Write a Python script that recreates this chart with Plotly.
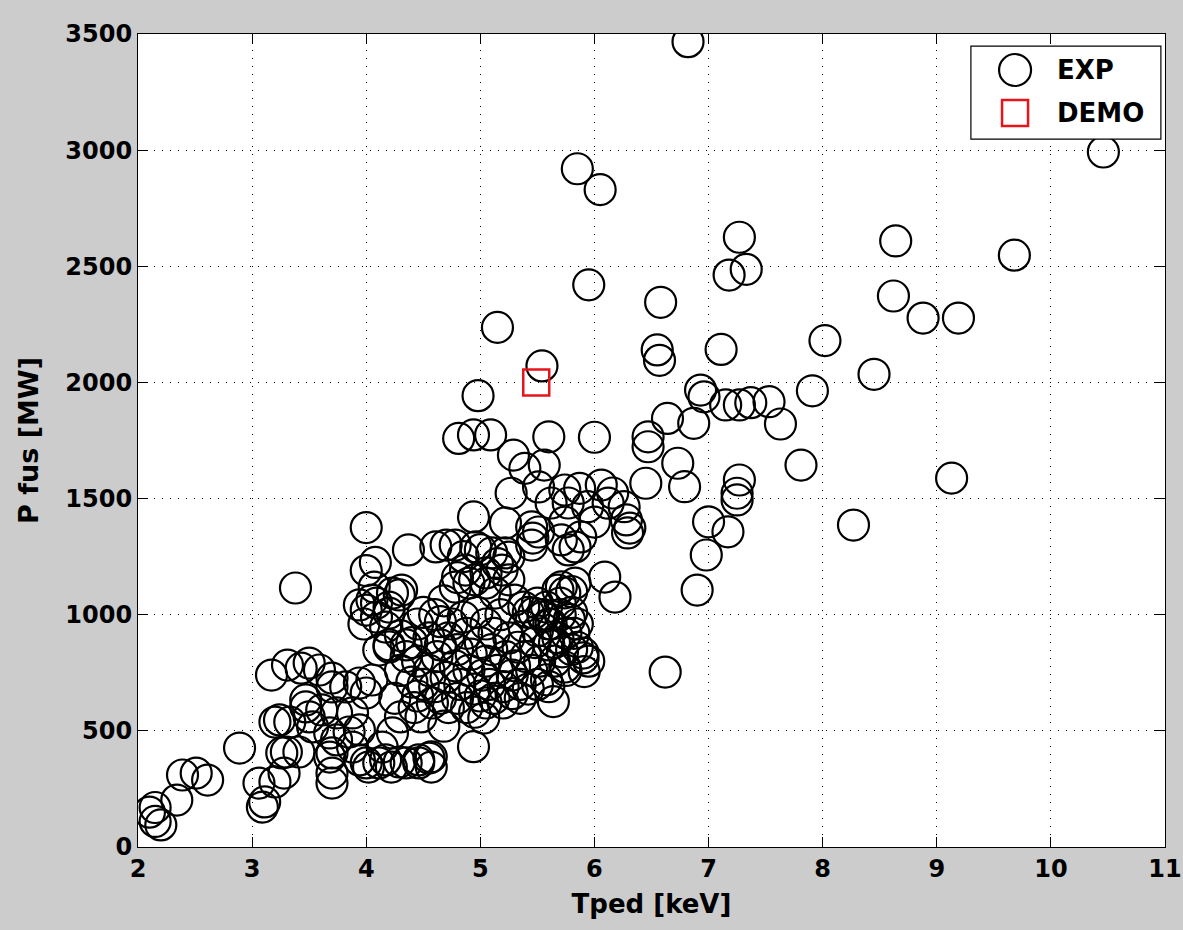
import plotly.graph_objects as go

# Experimental database: pedestal temperature [keV] vs fusion power [MW]
exp_pts = [
    (6.82, 3467), (10.46, 2992), (5.85, 2920), (6.05, 2830), (7.27, 2625), (8.64, 2609),
    (9.68, 2548), (7.18, 2462), (7.33, 2487), (5.95, 2420), (8.62, 2372), (6.58, 2345),
    (8.88, 2277), (9.19, 2277), (5.15, 2237), (8.02, 2180), (7.11, 2142), (6.55, 2140),
    (6.57, 2095), (5.54, 2071), (8.45, 2035), (4.98, 1943), (6.93, 1967), (6.96, 1938),
    (7.91, 1964), (7.15, 1903), (7.27, 1903), (7.37, 1913), (7.53, 1917), (7.63, 1821),
    (6.87, 1824), (6.64, 1845),
    (4.81, 1759), (4.94, 1774), (5.09, 1774), (5.60, 1766), (6.00, 1764), (6.47, 1766),
    (6.47, 1723), (5.29, 1687), (5.39, 1630), (5.56, 1644), (6.73, 1652), (6.79, 1551),
    (6.45, 1566), (7.81, 1644), (9.13, 1588), (7.27, 1580), (7.25, 1523), (7.25, 1494),
    (8.27, 1386), (7.00, 1400), (7.17, 1357), (6.98, 1257), (6.90, 1106), (6.62, 753),
    (5.27, 1523), (5.51, 1550), (5.74, 1537), (5.87, 1544), (6.06, 1558), (6.16, 1524),
    (6.26, 1465), (6.28, 1408), (6.31, 1373), (6.29, 1352), (5.62, 1481), (5.77, 1481),
    (5.94, 1465), (6.12, 1480),
    (4.94, 1421), (5.22, 1395), (5.45, 1378), (5.74, 1399), (6.00, 1399),
    (4.37, 1279), (4.61, 1292), (4.78, 1300), (4.96, 1292), (5.22, 1266), (5.45, 1300),
    (5.77, 1279), (5.83, 1136), (5.68, 1106), (6.09, 1162), (6.18, 1076), (5.46, 1330),
    (5.51, 1356), (5.71, 1322), (5.83, 1292), (5.88, 1335), (5.71, 1120), (5.74, 1094),
    (4.00, 1375), (3.38, 1115), (4.00, 1190), (4.08, 1225),
    (4.07, 1119), (4.23, 1093), (4.31, 1106), (4.09, 1050), (3.94, 1042), (4.05, 1063),
    (4.29, 1085), (4.20, 1033), (4.00, 1020), (4.09, 990), (4.20, 1007), (4.17, 947),
    (3.98, 960),
    (4.87, 1192), (4.90, 1136), (4.78, 1119), (5.05, 1136), (5.13, 1093), (5.19, 1192),
    (5.10, 1266), (5.25, 1248), (5.30, 1063), (5.38, 1033), (5.47, 1007), (5.58, 1033),
    (4.11, 848), (4.20, 861),
    (3.70, 689), (3.82, 689), (3.94, 706), (4.05, 719), (4.00, 663),
    (3.47, 603), (3.61, 590), (3.74, 577), (3.88, 577),
    (3.68, 491), (3.85, 495), (3.94, 504), (3.70, 405), (3.74, 461),
    (3.70, 318), (4.00, 362), (4.17, 375), (4.29, 366), (4.46, 375), (4.57, 388),
    (3.17, 740), (3.31, 783), (3.43, 770), (3.50, 792), (3.59, 762), (3.70, 727),
    (3.47, 633), (3.50, 560), (3.53, 517),
    (3.24, 547), (3.20, 538), (3.33, 538),
    (2.89, 426),
    (3.30, 409), (3.41, 409), (3.26, 405),
    (3.06, 275), (3.20, 280), (3.28, 318), (3.11, 194), (3.09, 172),
    (3.68, 387), (3.70, 275),
    (3.88, 430), (3.94, 375), (4.02, 344), (4.11, 362), (4.22, 344), (4.35, 362),
    (4.46, 362), (4.57, 344),
    (2.10, 150), (2.15, 170), (2.15, 110), (2.20, 95), (2.34, 202), (2.39, 310),
    (2.51, 318), (2.61, 288),
    (5.64, 626), (5.91, 755), (5.90, 814), (5.90, 835), (5.03, 555), (4.94, 432),
    (5.74, 775), (4.55, 383), (4.23, 491), (4.14, 430),
    # dense core of the distribution
    (4.45, 650), (4.50, 700), (4.55, 760), (4.60, 690), (4.62, 820), (4.65, 640),
    (4.70, 730), (4.72, 900), (4.75, 960), (4.78, 780), (4.80, 850), (4.82, 700),
    (4.85, 990), (4.88, 920), (4.90, 760), (4.92, 830), (4.95, 680), (4.97, 1010),
    (5.00, 880), (5.02, 740), (5.05, 800), (5.05, 960), (5.08, 700), (5.10, 850),
    (5.12, 920), (5.15, 760), (5.18, 1000), (5.20, 690), (5.22, 820), (5.25, 900),
    (5.28, 740), (5.30, 780), (5.33, 860), (5.35, 700), (5.38, 950), (5.40, 820),
    (5.42, 1010), (5.45, 760), (5.48, 880), (5.50, 930), (5.52, 800), (5.55, 1000),
    (5.58, 720), (5.60, 870), (5.62, 960), (5.65, 800), (5.68, 900), (5.70, 1050),
    (5.72, 840), (5.75, 760), (5.78, 980), (5.80, 1100), (5.82, 920), (5.85, 860),
    (4.40, 880), (4.45, 960), (4.50, 1010), (4.55, 900), (4.60, 1000), (4.65, 870),
    (4.68, 1060), (4.30, 760), (4.35, 820), (4.40, 710), (4.25, 640), (4.30, 560),
    (4.42, 600), (4.48, 560), (4.58, 620), (4.68, 520), (4.72, 600), (4.80, 640),
    (4.88, 600), (4.95, 580), (5.00, 650), (5.05, 620), (5.12, 640), (5.20, 620),
    (5.28, 660), (5.35, 640), (5.42, 680), (5.50, 700), (5.60, 690),
    (4.70, 1300), (4.85, 1250), (5.00, 1280), (5.15, 1220), (5.25, 1150), (4.95, 1150),
    (5.05, 1180), (4.80, 1160),
    (5.50, 1050), (5.55, 990), (5.60, 960), (5.70, 1000), (5.80, 1010), (5.85, 960),
    (5.75, 920), (5.65, 880), (5.80, 850), (5.95, 800),
    (4.30, 910), (4.20, 870), (4.35, 870), (4.45, 800), (4.65, 970),
]

tped_exp = [p[0] for p in exp_pts]
pfus_exp = [p[1] for p in exp_pts]

# DEMO design point
tped_demo = [5.49]
pfus_demo = [2000]

x_ticks = [2, 3, 4, 5, 6, 7, 8, 9, 10, 11]
y_ticks = [0, 500, 1000, 1500, 2000, 2500, 3000, 3500]

FONT = "DejaVu Sans, Liberation Sans, Arial, sans-serif"

fig = go.Figure()
fig.add_trace(go.Scatter(
    x=tped_exp, y=pfus_exp, mode="markers", name="EXP", showlegend=False,
    marker=dict(symbol="circle-open", size=31, color="black", line=dict(width=2.2, color="black")),
    hoverinfo="x+y",
))
fig.add_trace(go.Scatter(
    x=tped_demo, y=pfus_demo, mode="markers", name="DEMO", showlegend=False,
    marker=dict(symbol="square-open", size=26, color="#e8141c", line=dict(width=2.5, color="#e8141c")),
    hoverinfo="x+y",
))

axis_common = dict(
    showline=True, linecolor="black", linewidth=1.2, mirror="ticks",
    ticks="inside", ticklen=10, tickwidth=1.2, tickcolor="black",
    showgrid=True, gridcolor="black", gridwidth=1, griddash="1px,7px",
    zeroline=False, automargin=False, ticklabeloverflow="allow",
    tickfont=dict(family=FONT, size=24, color="black", weight="bold"),
)

fig.update_xaxes(
    range=[2, 11], tickvals=x_ticks, ticktext=[str(v) for v in x_ticks],
    title=dict(text="Tped [keV]", font=dict(family=FONT, size=26, color="black", weight="bold"), standoff=12),
    **axis_common,
)
fig.update_yaxes(
    range=[0, 3500], tickvals=y_ticks, ticktext=[str(v) for v in y_ticks],
    title=dict(text="P fus [MW]", font=dict(family=FONT, size=27, color="black", weight="bold"), standoff=18),
    **axis_common,
)

# Legend box drawn as shapes so the marker glyphs keep their plotted size
lx = 0.854
shapes = [
    dict(type="rect", xref="paper", yref="paper", x0=0.811, x1=0.996, y0=0.8708, y1=0.9852,
         fillcolor="white", line=dict(color="black", width=1.2), layer="above"),
    dict(type="circle", xref="paper", yref="paper", xsizemode="pixel", ysizemode="pixel",
         xanchor=lx, yanchor=0.9557, x0=-16, x1=16, y0=-16, y1=16,
         line=dict(color="black", width=2.2), layer="above"),
    dict(type="rect", xref="paper", yref="paper", xsizemode="pixel", ysizemode="pixel",
         xanchor=lx, yanchor=0.9028, x0=-13, x1=13, y0=-13, y1=13,
         line=dict(color="#e8141c", width=2.5), layer="above"),
]
annotations = [
    dict(text="EXP", xref="paper", yref="paper", x=0.893, y=0.9557, xanchor="left", yanchor="middle",
         showarrow=False, font=dict(family=FONT, size=26, color="black", weight="bold")),
    dict(text="DEMO", xref="paper", yref="paper", x=0.893, y=0.9028, xanchor="left", yanchor="middle",
         showarrow=False, font=dict(family=FONT, size=26, color="black", weight="bold")),
]

fig.update_layout(
    width=1183, height=930,
    margin=dict(l=138, r=18, t=34, b=83),
    paper_bgcolor="#cccccc", plot_bgcolor="white",
    shapes=shapes, annotations=annotations,
    showlegend=False,
)

fig.write_html("out.html")
